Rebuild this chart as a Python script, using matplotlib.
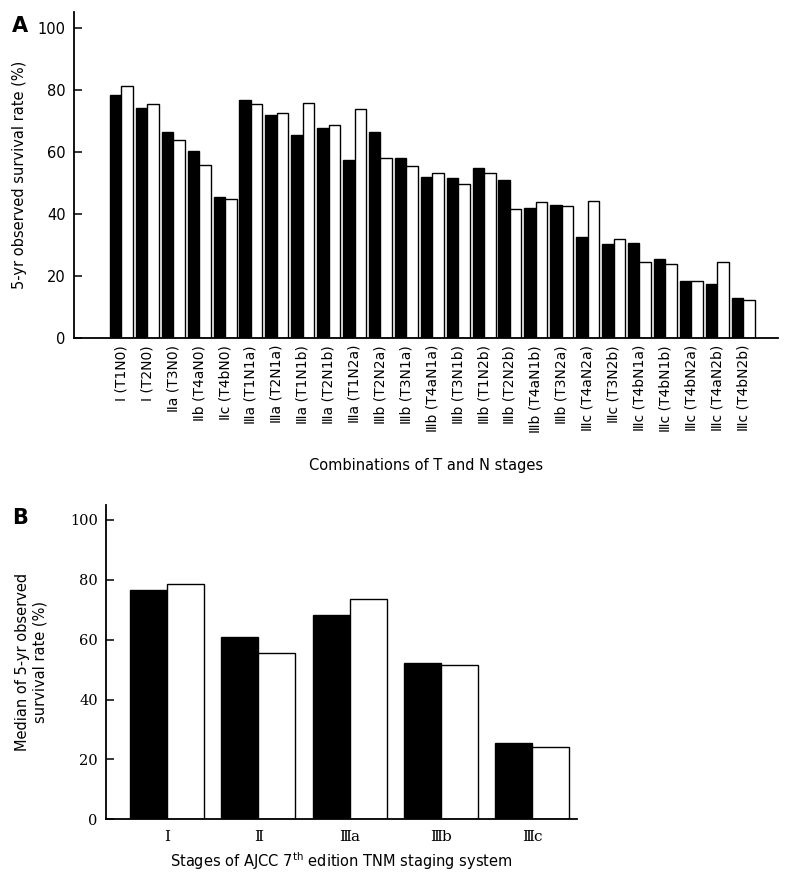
import matplotlib
matplotlib.use("Agg")
import matplotlib.pyplot as plt
import numpy as np

plt.rcParams['font.family'] = ['DejaVu Sans']

# Panel A data
combo_labels = ["Ⅰ (T1N0)", "Ⅰ (T2N0)", "Ⅱa (T3N0)", "Ⅱb (T4aN0)", "Ⅱc (T4bN0)",
                "Ⅲa (T1N1a)", "Ⅲa (T2N1a)", "Ⅲa (T1N1b)", "Ⅲa (T2N1b)", "Ⅲa (T1N2a)",
                "Ⅲb (T2N2a)", "Ⅲb (T3N1a)", "Ⅲb (T4aN1a)", "Ⅲb (T3N1b)", "Ⅲb (T1N2b)",
                "Ⅲb (T2N2b)", "Ⅲb (T4aN1b)", "Ⅲb (T3N2a)", "Ⅲc (T4aN2a)", "Ⅲc (T3N2b)",
                "Ⅲc (T4bN1a)", "Ⅲc (T4bN1b)", "Ⅲc (T4bN2a)", "Ⅲc (T4aN2b)", "Ⅲc (T4bN2b)"]
combo_black = [78.4, 74.2, 66.5, 60.3, 45.5, 76.5, 71.9, 65.5, 67.7, 57.4,
               66.5, 57.9, 51.9, 51.6, 54.8, 51.0, 41.9, 42.9, 32.6, 30.3,
               30.6, 25.5, 18.4, 17.4, 12.9]
combo_white = [81.2, 75.4, 63.8, 55.7, 44.7, 75.4, 72.5, 75.7, 68.6, 73.8,
               57.9, 55.4, 53.1, 49.6, 53.1, 41.5, 43.9, 42.5, 44.1, 31.8,
               24.4, 23.8, 18.3, 24.4, 12.2]

# Panel B data
stage_labels = ["Ⅰ", "Ⅱ", "Ⅲa", "Ⅲb", "Ⅲc"]
stage_black = [76.7, 60.8, 68.4, 52.1, 25.4]
stage_white = [78.7, 55.5, 73.7, 51.7, 24.3]

W, H = 793, 881
fig = plt.figure(figsize=(W / 100, H / 100), dpi=100)

def style(ax):
    for s in ['top', 'right']:
        ax.spines[s].set_visible(False)
    for s in ['left', 'bottom']:
        ax.spines[s].set_linewidth(1.3)
    ax.tick_params(axis='y', direction='in', length=6, width=1.1, labelsize=10.5, pad=6)
    ax.tick_params(axis='x', length=0)
    ax.set_ylim(0, 105)
    ax.set_yticks([0, 20, 40, 60, 80, 100])

# Panel A
axA = fig.add_axes([74 / W, 1 - 338 / H, (778 - 74) / W, (338 - 12) / H])
x = np.arange(len(combo_labels))
w = 0.444
axA.bar(x - w / 2, combo_black, w, color='black', edgecolor='black', linewidth=1)
axA.bar(x + w / 2, combo_white, w, color='white', edgecolor='black', linewidth=1)
axA.set_xlim(-1.834, 25.35)
style(axA)
axA.set_xticks(x)
axA.set_xticklabels(combo_labels, rotation=90, fontsize=10)
axA.tick_params(axis='x', pad=5)
axA.set_ylabel("5-yr observed survival rate (%)", fontsize=10.5, labelpad=8)
axA.set_xlabel("Combinations of T and N stages", fontsize=10.5, labelpad=18)
fig.text(12 / W, 1 - 26 / H, "A", fontsize=15, fontweight='bold', va='center', ha='left')

# Panel B
axB = fig.add_axes([106 / W, 1 - 819.3 / H, (576.7 - 106) / W, (819.3 - 505) / H])
xb = np.arange(len(stage_labels))
wb = 0.406
axB.bar(xb - wb / 2, stage_black, wb, color='black', edgecolor='black', linewidth=1)
axB.bar(xb + wb / 2, stage_white, wb, color='white', edgecolor='black', linewidth=1)
axB.set_xlim(-0.672, 4.49)
style(axB)
for lab in axB.get_yticklabels():
    lab.set_family('DejaVu Serif')
axB.set_xticks(xb)
axB.set_xticklabels(stage_labels, fontsize=11, family='DejaVu Serif')
axB.tick_params(axis='x', pad=8)
axB.set_ylabel("Median of 5-yr observed\nsurvival rate (%)", fontsize=10.5, labelpad=16)
axB.set_xlabel("Stages of AJCC 7$^{\\mathrm{th}}$ edition TNM staging system", fontsize=10.5, labelpad=4)
fig.text(12 / W, 1 - 518 / H, "B", fontsize=15, fontweight='bold', va='center', ha='left')

fig.savefig("out.png", dpi=100)
